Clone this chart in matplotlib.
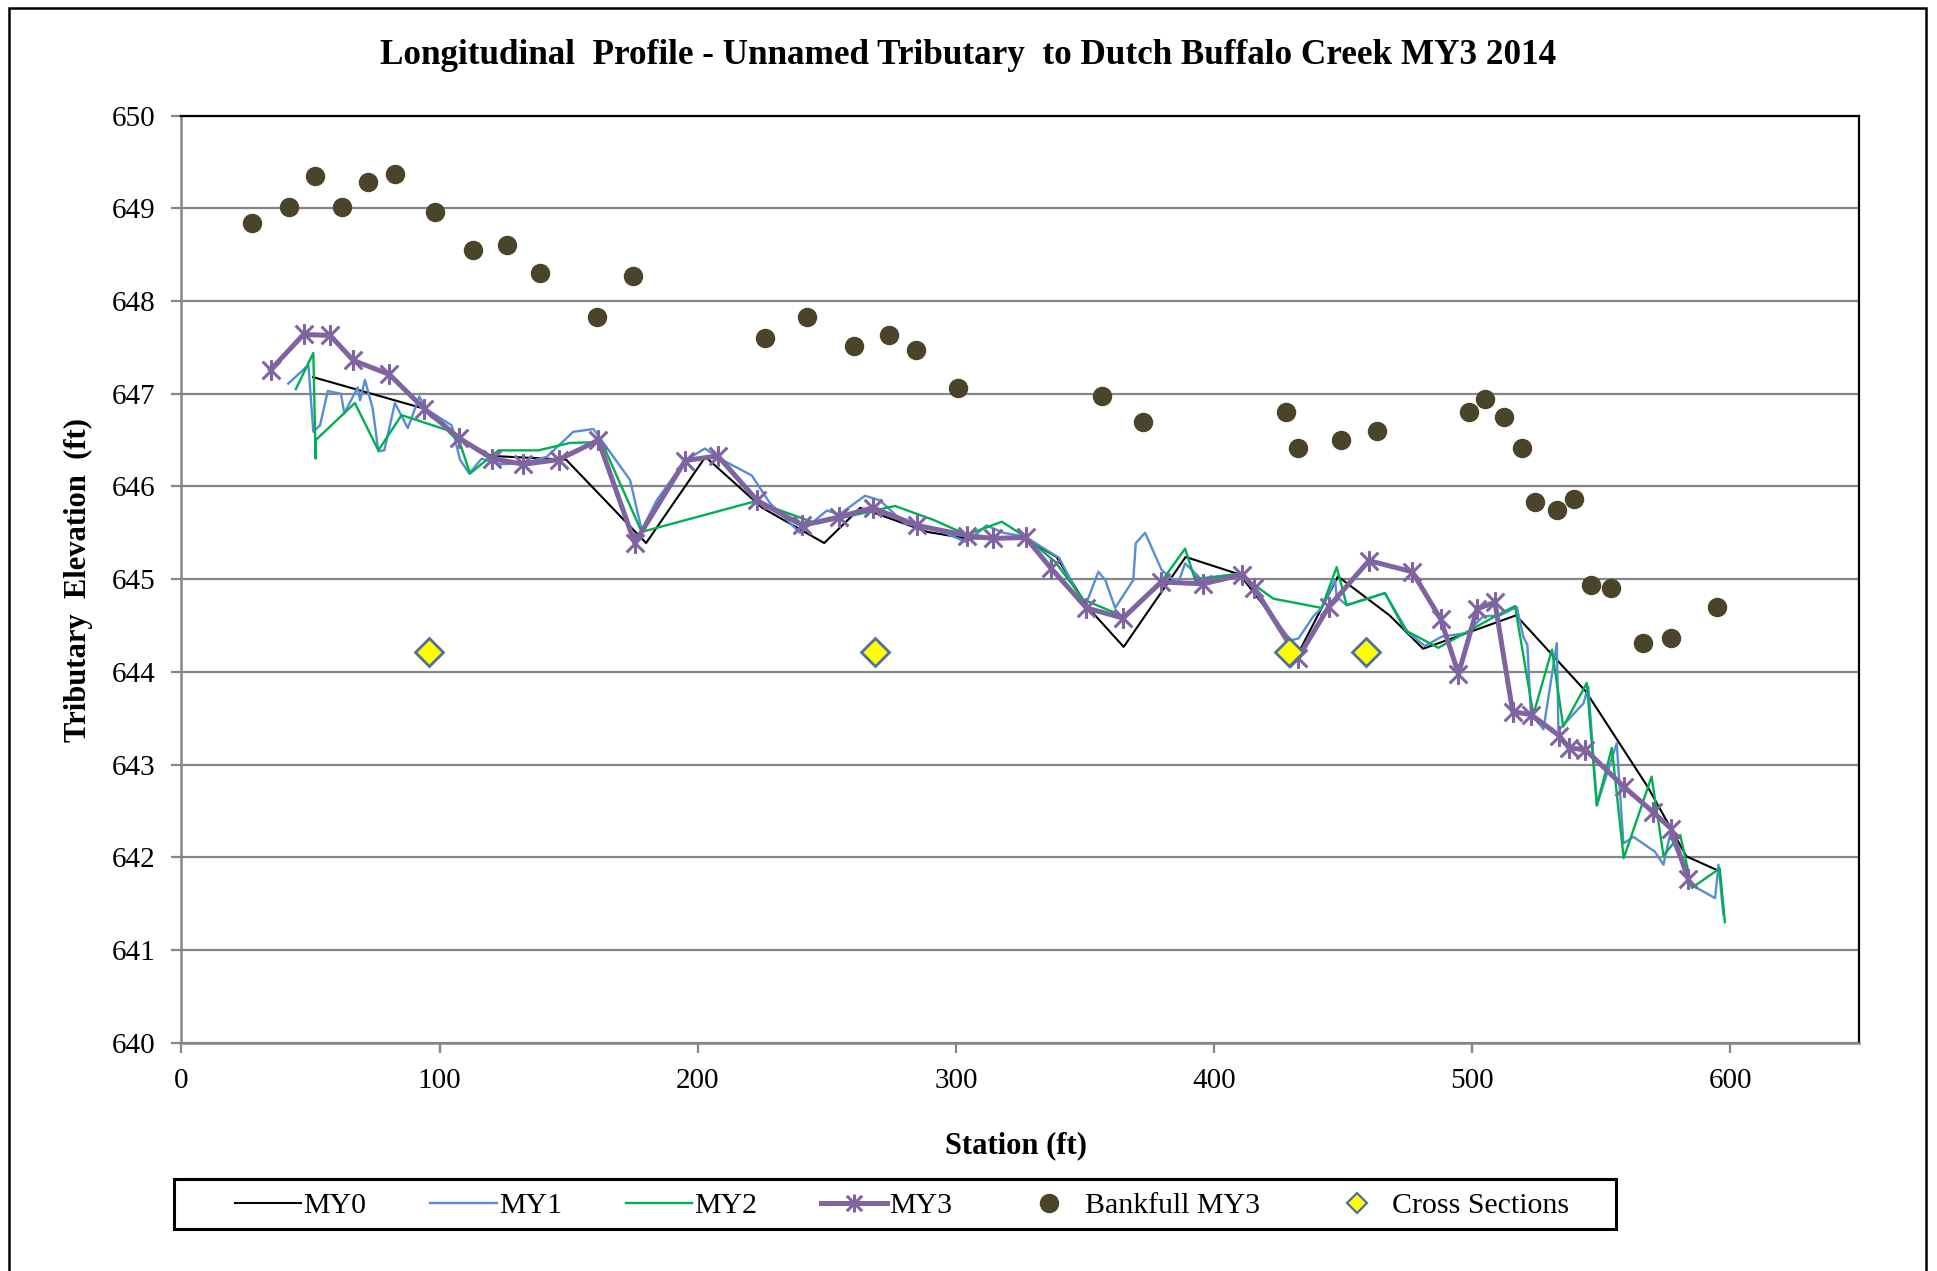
import matplotlib
matplotlib.use("Agg")
import matplotlib.pyplot as plt
from matplotlib.path import Path
from matplotlib.patches import Rectangle
from matplotlib.lines import Line2D

plt.rcParams['font.family'] = ['Liberation Serif', 'DejaVu Serif']

# ---------------- data ----------------
my0_x = [51, 94, 108, 120, 149, 180, 203, 225, 249, 263, 289, 304, 327, 339, 351, 365, 389, 410, 433, 448, 468, 481, 517, 544, 568, 583, 595]
my0_y = [647.18, 646.84, 646.52, 646.33, 646.29, 645.39, 646.32, 645.77, 645.39, 645.77, 645.51, 645.44, 645.44, 645.24,
         644.70, 644.27, 645.24, 645.05, 644.22, 645.03, 644.61, 644.25, 644.61, 643.79, 642.76, 642.01, 641.86]

my1_x = [41.4, 49.2, 51.1, 53.7, 56.7, 61.8, 63.1, 68.3, 69.2, 71.1, 74.1, 76.3, 78.6, 82.7, 87.7, 92.2, 94.5,
         104.7, 107.9, 111.5, 116.3, 123.4, 132.4, 141.5, 151.8, 159.6, 162.2, 173.8, 178.3, 184.1, 195.1,
         202.8, 208.6, 220.9, 228.0, 239.6, 250.0, 255.0, 264.8, 270.6, 280.3, 291.3, 304.2, 311.9, 318.4,
         326.8, 340.0, 350.0, 355.2, 357.9, 361.7, 368.7, 369.7, 373.3, 379.7, 386.0, 388.8, 394.7, 410.7,
         415.5, 423.0, 429.4, 432.7, 438.5, 441.7, 446.9, 447.5, 451.4, 466.2, 475.3, 481.7, 488.2, 497.9,
         504.3, 510.8, 517.3, 519.8, 521.4, 522.7, 527.6, 532.8, 533.4, 543.1, 545.0, 548.3, 556.0, 558.6,
         562.5, 570.8, 574.1, 576.6, 585.1, 594.1, 595.4, 597.3]
my1_y = [647.11, 647.31, 646.59, 646.66, 647.03, 647.00, 646.79, 647.07, 646.93, 647.15, 646.84, 646.38, 646.39,
         646.90, 646.63, 646.97, 646.84, 646.66, 646.29, 646.14, 646.30, 646.24, 646.25, 646.32, 646.59, 646.62,
         646.52, 646.07, 645.53, 645.85, 646.28, 646.41, 646.30, 646.12, 645.82, 645.50, 645.74, 645.70, 645.90,
         645.85, 645.60, 645.55, 645.40, 645.58, 645.50, 645.46, 645.23, 644.70, 645.08, 644.99, 644.69, 644.99,
         645.39, 645.50, 645.10, 644.95, 645.17, 645.01, 645.06, 644.93, 644.60, 644.34, 644.36, 644.60, 644.69,
         644.99, 644.81, 644.72, 644.85, 644.42, 644.28, 644.38, 644.42, 644.60, 644.61, 644.70, 644.38, 644.29,
         643.57, 643.38, 644.31, 643.37, 643.66, 643.84, 642.56, 643.23, 642.15, 642.22, 642.06, 641.92, 642.24,
         641.70, 641.56, 641.92, 641.38]

my2_x = [44.3, 51.1, 52.0, 52.0, 67.2, 76.3, 85.3, 102.8, 107.9, 111.8, 122.8, 138.3, 150.5, 162.8, 178.3,
         222.2, 246.1, 276.4, 291.3, 304.2, 317.8, 326.8, 338.4, 349.4, 364.8, 379.5, 388.8, 392.7, 410.1,
         415.0, 423.0, 441.7, 447.5, 451.4, 466.2, 474.0, 486.9, 508.9, 516.6, 523.7, 530.9, 535.3, 544.4,
         548.3, 554.1, 558.7, 569.5, 574.1, 580.6, 585.1, 595.9, 597.9]
my2_y = [647.05, 647.44, 646.30, 646.50, 646.90, 646.39, 646.77, 646.61, 646.47, 646.14, 646.39, 646.39, 646.47,
         646.48, 645.51, 645.84, 645.60, 645.79, 645.64, 645.48, 645.62, 645.46, 645.19, 644.78, 644.60, 644.97,
         645.33, 644.99, 645.06, 644.95, 644.79, 644.69, 645.13, 644.72, 644.85, 644.45, 644.26, 644.60, 644.71,
         643.54, 644.24, 643.41, 643.88, 642.56, 643.18, 641.99, 642.87, 642.02, 642.24, 641.67, 641.88, 641.30]

my3_x = [34.6, 47.3, 57.6, 66.6, 80.5, 94.0, 107.7, 120.4, 132.5, 146.2, 161.5, 175.6, 195.2, 207.8, 223.0,
         240.5, 254.6, 267.8, 284.9, 304.5, 314.2, 327.0, 336.8, 350.6, 364.8, 379.5, 395.8, 411.0, 415.5,
         432.5, 444.4, 460.0, 476.8, 487.8, 494.7, 501.9, 508.8, 515.7, 522.8, 533.8, 537.5, 543.9, 558.8,
         570.0, 577.0, 583.6]
my3_y = [647.26, 647.64, 647.63, 647.36, 647.21, 646.84, 646.52, 646.30, 646.24, 646.29, 646.50, 645.39, 646.28,
         646.33, 645.85, 645.58, 645.67, 645.77, 645.58, 645.47, 645.44, 645.45, 645.12, 644.69, 644.58, 644.97,
         644.95, 645.05, 644.91, 644.15, 644.70, 645.20, 645.08, 644.57, 643.98, 644.68, 644.75, 643.57, 643.54,
         643.31, 643.18, 643.16, 642.76, 642.49, 642.31, 641.77]

bkf_x = [27.3, 41.7, 51.7, 62.3, 72.4, 82.9, 98.2, 113.1, 126.0, 139.0, 161.0, 174.9, 226.2, 242.5, 260.7,
         274.1, 284.6, 300.9, 356.5, 372.3, 427.9, 432.7, 449.0, 463.3, 498.8, 505.0, 512.2, 519.4, 524.2,
         532.8, 539.5, 546.0, 553.7, 566.2, 576.9, 594.9]
bkf_y = [648.84, 649.01, 649.35, 649.01, 649.29, 649.37, 648.96, 648.55, 648.60, 648.30, 647.83, 648.27, 647.60,
         647.83, 647.52, 647.63, 647.47, 647.06, 646.98, 646.70, 646.80, 646.42, 646.50, 646.60, 646.80, 646.94,
         646.75, 646.42, 645.83, 645.75, 645.86, 644.94, 644.90, 644.31, 644.37, 644.70]

xs_x = [95.8, 268.8, 429.2, 458.7]
xs_y = [644.21, 644.21, 644.21, 644.21]

x_ticks = [0, 100, 200, 300, 400, 500, 600]
y_ticks = [640, 641, 642, 643, 644, 645, 646, 647, 648, 649, 650]

title = "Longitudinal  Profile - Unnamed Tributary  to Dutch Buffalo Creek MY3 2014"
xlabel = "Station (ft)"
ylabel = "Tributary  Elevation  (ft)"
labels = ["MY0", "MY1", "MY2", "MY3", "Bankfull MY3", "Cross Sections"]

# ---------------- styles ----------------
c_my0 = "#000000"
c_my1 = "#558ED5"
c_my2 = "#00B050"
c_my3 = "#8064A2"
c_bkf = "#4A452A"
c_xs_face = "#FFFF00"
c_xs_edge = "#4F6FA0"
grid_c = "#868686"

star = Path([(0, -1), (0, 1), (-0.85, -0.85), (0.85, 0.85), (-0.85, 0.85), (0.85, -0.85)],
            [Path.MOVETO, Path.LINETO, Path.MOVETO, Path.LINETO, Path.MOVETO, Path.LINETO])

W, H = 1937, 1271
fig = plt.figure(figsize=(W / 100, H / 100), dpi=100)
fig.patch.set_facecolor("white")

ax_l, ax_r, ax_t, ax_b = 181.4, 1859.4, 115.7, 1042.7
ax = fig.add_axes([ax_l / W, 1 - ax_b / H, (ax_r - ax_l) / W, (ax_b - ax_t) / H])

ax.plot(my0_x, my0_y, color=c_my0, lw=1.5, zorder=3)
ax.plot(my1_x, my1_y, color=c_my1, lw=1.7, zorder=4)
ax.plot(my2_x, my2_y, color=c_my2, lw=1.7, zorder=5)
ax.plot(my3_x, my3_y, color=c_my3, lw=3.6, marker=star, ms=15, mew=2.2, mfc="none", mec=c_my3, zorder=6)
ax.plot(bkf_x, bkf_y, ls="none", marker="o", ms=13, color=c_bkf, mec=c_bkf, zorder=7)
ax.plot(xs_x, xs_y, ls="none", marker="D", ms=14, mfc=c_xs_face, mec=c_xs_edge, mew=2, zorder=8)

ax.set_xlim(0, 650)
ax.set_ylim(640, 650)
ax.set_xticks(x_ticks)
ax.set_yticks(y_ticks)
ax.yaxis.grid(True, color=grid_c, lw=1.6)
ax.set_axisbelow(True)
ax.tick_params(axis="both", direction="out", length=7, width=1.6, color=grid_c, labelsize=21, pad=12)
ax.tick_params(axis="x", pad=11)
for s in ["left", "bottom"]:
    ax.spines[s].set_color(grid_c)
    ax.spines[s].set_linewidth(1.8)
for s in ["top", "right"]:
    ax.spines[s].set_color("black")
    ax.spines[s].set_linewidth(1.6)

fig.text(968 / W, 1 - 55 / H, title, ha="center", va="center", fontsize=25.3, fontweight="bold")
fig.text(1016 / W, 1 - 1146 / H, xlabel, ha="center", va="center", fontsize=22, fontweight="bold")
fig.text(78 / W, 1 - 580 / H, ylabel, ha="center", va="center", fontsize=22, fontweight="bold", rotation=90)

handles = [
    Line2D([], [], color=c_my0, lw=1.5),
    Line2D([], [], color=c_my1, lw=1.7),
    Line2D([], [], color=c_my2, lw=1.7),
    Line2D([], [], color=c_my3, lw=3.6, marker=star, ms=13, mew=2.2, mfc="none"),
    Line2D([], [], ls="none", marker="o", ms=13, color=c_bkf),
    Line2D([], [], ls="none", marker="D", ms=10, mfc=c_xs_face, mec=c_xs_edge, mew=1.6),
]
lx0, lx1, ly0, ly1 = 174, 1616, 1179, 1229
leg = fig.legend(handles, labels, loc="center left", ncol=6,
                 bbox_to_anchor=(235 / W, 1 - 1206 / H),
                 fontsize=21.5, frameon=False, handlelength=2.22, handletextpad=0.07,
                 borderpad=0, borderaxespad=0, columnspacing=2.14)

fig.add_artist(Rectangle((lx0 / W, 1 - ly1 / H), (lx1 - lx0) / W, (ly1 - ly0) / H, transform=fig.transFigure,
                         fill=False, edgecolor="black", lw=2.2))
fig.add_artist(Rectangle((9 / W, -0.01), (1926 - 9) / W, 1.01 - 8 / H, transform=fig.transFigure,
                         fill=False, edgecolor="black", lw=1.8))

fig.savefig("out.png", dpi=100)
